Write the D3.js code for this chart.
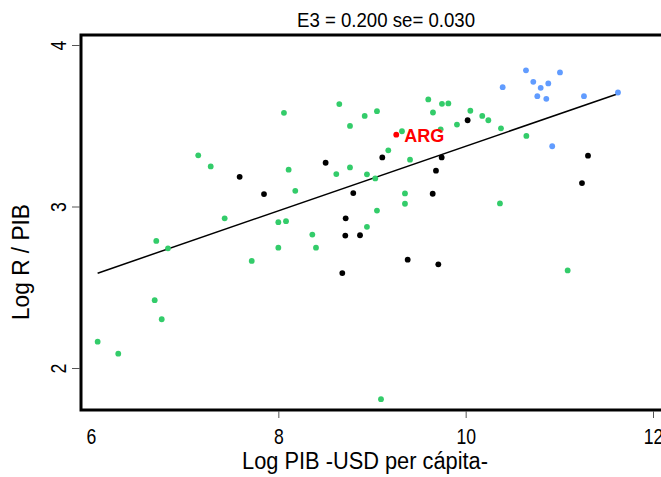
<!DOCTYPE html>
<html>
<head>
<meta charset="utf-8">
<script src="https://cdn.jsdelivr.net/npm/d3@7"></script>
<style>
  html, body { margin: 0; padding: 0; background: #fff; }
  svg { display: block; }
  .narrow { font-family: 'Liberation Sans', Arial, sans-serif; }
</style>
</head>
<body>
<svg width="661" height="477"></svg>
<script>
// points by group, [log PIB, log R/PIB]
const greenPts = [
  [7.145, 3.317], [7.278, 3.248], [7.427, 2.927], [8.060, 3.580], [8.651, 3.634],
  [8.765, 3.499], [8.922, 3.561], [9.053, 3.590], [9.601, 3.663], [9.651, 3.582],
  [9.747, 3.636], [9.815, 3.638], [10.050, 3.593], [9.320, 3.466], [9.733, 3.478],
  [9.907, 3.507], [9.174, 3.348], [9.406, 3.290], [8.110, 3.228], [8.765, 3.242],
  [8.619, 3.201], [8.946, 3.199], [9.035, 3.174], [8.181, 3.097], [9.352, 3.081],
  [9.352, 3.017], [9.053, 2.975], [8.000, 2.903], [8.082, 2.909], [10.177, 3.561],
  [10.242, 3.534], [10.377, 3.484], [10.648, 3.437], [10.366, 3.019], [6.697, 2.787],
  [6.822, 2.741], [7.716, 2.663], [8.000, 2.745], [6.680, 2.420], [6.755, 2.302],
  [6.071, 2.163], [6.291, 2.089], [8.363, 2.826], [8.402, 2.745], [8.946, 2.874],
  [9.096, 1.807], [11.089, 2.604]
]
const blackPts = [
  [7.587, 3.184], [7.847, 3.077], [10.021, 3.534], [9.110, 3.304], [9.744, 3.304],
  [8.505, 3.271], [9.683, 3.222], [8.800, 3.083], [9.648, 3.079], [8.719, 2.927],
  [8.715, 2.820], [8.872, 2.822], [9.381, 2.671], [9.708, 2.642], [8.683, 2.588],
  [11.306, 3.315], [11.242, 3.145]
]
const bluePts = [
  [10.644, 3.843], [11.007, 3.830], [10.395, 3.739], [10.722, 3.772], [10.801, 3.735],
  [10.882, 3.762], [10.765, 3.683], [10.861, 3.667], [11.263, 3.683], [11.626, 3.706],
  [10.924, 3.373]
]
const argPt = [9.259, 3.445]
const argLabel = 'ARG'

const fitSlope = 0.200
const fitIntercept = 1.373
const xTicks = [6, 8, 10, 12]
const yTicks = [2, 3, 4]
const title = 'E3 = 0.200 se= 0.030'
const xTitle = 'Log PIB -USD per cápita-'
const yTitle = 'Log R / PIB'

let svg = d3.select('svg')
svg.append('rect').attr('width', 661).attr('height', 477).attr('fill', '#fff')

let x = d3.scaleLinear().domain([6, 12]).range([91, 653])
let y = d3.scaleLinear().domain([2, 4]).range([368, 45])

// frame (right side runs off the page)
svg.append('rect')
  .attr('x', 81).attr('y', 35)
  .attr('width', 700).attr('height', 375)
  .attr('fill', 'none').attr('stroke', '#000').attr('stroke-width', 3)

// axes
let gx = svg.append('g')
  .attr('class', 'narrow')
  .attr('transform', 'translate(0,411)')
  .call(d3.axisBottom(x).tickValues(xTicks).tickSize(7).tickPadding(10).tickFormat(d3.format('d')))
gx.select('.domain').remove()
gx.selectAll('.tick line').attr('stroke', '#555')
gx.selectAll('.tick').filter(d => d === 6).select('line').remove()
gx.selectAll('.tick text').attr('font-size', 22).attr('fill', '#000')
  .attr('font-family', null)
  .attr('transform', 'scale(0.8,1)')

let gy = svg.append('g')
  .attr('class', 'narrow')
  .attr('transform', 'translate(80,0)')
  .call(d3.axisLeft(y).tickValues(yTicks).tickSize(8).tickFormat(d3.format('d')))
gy.select('.domain').remove()
gy.selectAll('.tick line').attr('stroke', '#555')
gy.selectAll('.tick text')
  .attr('font-size', 22).attr('fill', '#000').attr('font-family', null)
  .attr('x', null).attr('dy', null)
  .attr('text-anchor', 'middle')
  .attr('transform', 'translate(-14,0) rotate(-90) scale(0.8,1)')

// regression line over the data range
let allPts = greenPts.concat(blackPts, bluePts, [argPt])
let xr = d3.extent(allPts, d => d[0])
svg.append('path')
  .attr('d', d3.line()(xr.map(v => [x(v), y(fitIntercept + fitSlope * v)])))
  .attr('stroke', '#000').attr('stroke-width', 1.5).attr('fill', 'none')

function drawPoints (pts, color) {
  svg.append('g').selectAll('circle')
    .data(pts)
    .join('circle')
    .attr('cx', d => x(d[0]))
    .attr('cy', d => y(d[1]))
    .attr('r', 2.9)
    .attr('fill', color)
}

drawPoints(greenPts, '#33CC6A')
drawPoints(blackPts, '#000')
drawPoints(bluePts, '#619CFF')
drawPoints([argPt], '#FF0000')

svg.append('text')
  .attr('x', x(argPt[0]) + 8).attr('y', y(argPt[1]) + 7)
  .attr('font-family', "'Liberation Sans', Arial, sans-serif")
  .attr('font-weight', 'bold').attr('font-size', 18)
  .attr('fill', '#FF0000')
  .text(argLabel)

// titles, squeezed to the narrow face of the original
svg.append('text')
  .attr('class', 'narrow')
  .attr('x', 297).attr('y', 27)
  .attr('font-size', 20)
  .attr('textLength', 178).attr('lengthAdjust', 'spacingAndGlyphs')
  .text(title)

svg.append('text')
  .attr('class', 'narrow')
  .attr('x', 242).attr('y', 469)
  .attr('font-size', 23)
  .attr('textLength', 246).attr('lengthAdjust', 'spacingAndGlyphs')
  .text(xTitle)

svg.append('text')
  .attr('class', 'narrow')
  .attr('transform', 'translate(29,320) rotate(-90)')
  .attr('font-size', 23)
  .attr('textLength', 116).attr('lengthAdjust', 'spacingAndGlyphs')
  .text(yTitle)
</script>
</body>
</html>
